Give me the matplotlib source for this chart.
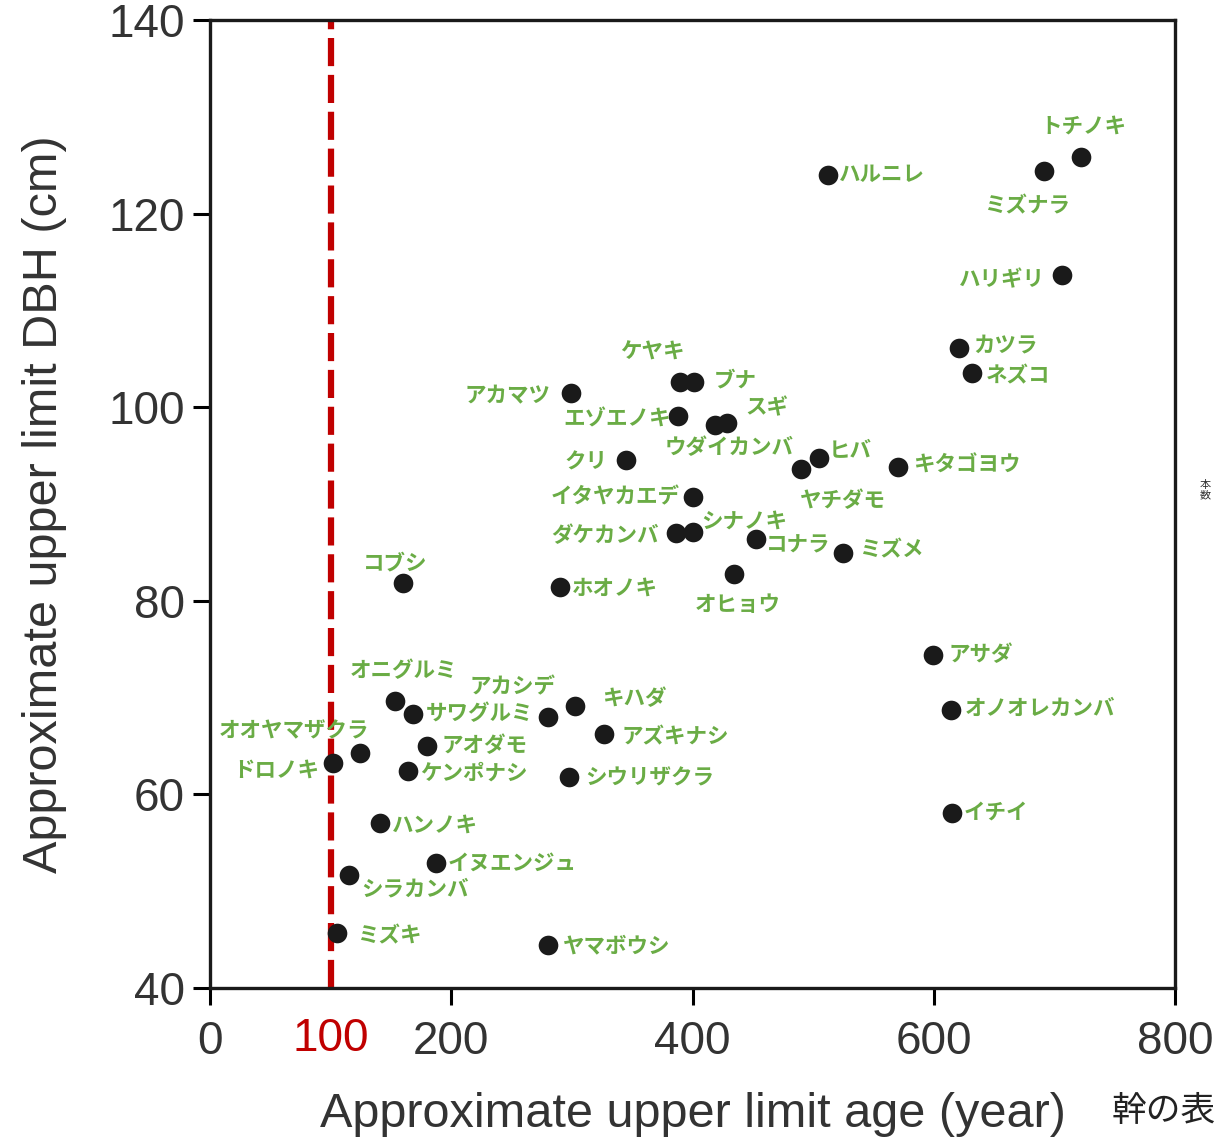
import matplotlib
matplotlib.use("Agg")
import matplotlib.pyplot as plt

plt.rcParams['font.family'] = ['Liberation Sans', 'Noto Sans CJK JP', 'DejaVu Sans']

# ---- data ----
species = ["トチノキ", "ミズナラ", "ハルニレ", "ハリギリ", "カツラ", "ネズコ",
           "アカマツ", "ケヤキ", "ブナ", "エゾエノキ", "ウダイカンバ", "スギ",
           "クリ", "ヤチダモ", "ヒバ", "キタゴヨウ", "イタヤカエデ", "ダケカンバ",
           "シナノキ", "コナラ", "ミズメ", "オヒョウ", "ホオノキ", "コブシ",
           "アサダ", "オノオレカンバ", "イチイ", "オニグルミ", "サワグルミ",
           "アカシデ", "キハダ", "アズキナシ", "シウリザクラ", "オオヤマザクラ",
           "ドロノキ", "アオダモ", "ケンポナシ", "ハンノキ", "イヌエンジュ",
           "シラカンバ", "ミズキ", "ヤマボウシ"]
age = [722, 691, 512, 706, 621, 632,
       299, 390, 401, 388, 419, 429,
       345, 490, 505, 570, 400, 386,
       400, 453, 525, 434, 290, 160,
       599, 614, 615, 153, 168,
       280, 303, 327, 298, 124,
       102, 180, 164, 141, 187,
       115, 105, 280]
dbh = [125.8, 124.4, 124.0, 113.7, 106.1, 103.5,
       101.5, 102.6, 102.6, 99.1, 98.2, 98.4,
       94.5, 93.6, 94.8, 93.8, 90.7, 87.0,
       87.1, 86.4, 84.9, 82.8, 81.4, 81.8,
       74.4, 68.7, 58.1, 69.6, 68.3,
       68.0, 69.1, 66.2, 61.8, 64.3,
       63.2, 65.0, 62.4, 57.0, 52.9,
       51.7, 45.7, 44.4]
x_ticks = [0, 200, 400, 600, 800]
y_ticks = [40, 60, 80, 100, 120, 140]
threshold = 100
x_label = "Approximate upper limit age (year)"
y_label = "Approximate upper limit DBH (cm)"

# label offsets in pixels (dx right, dy up) from each dot
offsets = [(3, 31), (-16, -35), (54, 0), (-60, -5), (46, 3), (46, -3),
           (-63, -3), (-28, 30), (42, 2), (-61, -3), (14, -23), (39, 15),
           (-40, -2), (42, -31), (31, 7), (69, 2), (-77, 0), (-71, -3),
           (52, 11), (42, -6), (48, 3), (4, -31), (55, -1), (-8, 20),
           (48, 0), (89, 2), (44, 1), (9, 31), (67, 0),
           (-35, 30), (59, 8), (71, -2), (80, -1), (-66, 22),
           (-57, -7), (57, 0), (66, -2), (55, -2), (77, 0),
           (66, -14), (53, -3), (69, 0)]

green = "#6aac45"
tick_color = "#333333"

fig = plt.figure(figsize=(12.2, 11.38), dpi=100)
ax = fig.add_axes([210/1220, 150/1138, 965/1220, 968/1138])

ax.axvline(threshold, color="#c00000", lw=4.5, ls=(0, (4.5, 1.4)), zorder=2)
ax.scatter(age, dbh, s=200, color="#1a1a1a", zorder=3, linewidths=0)

for name, x, y, (dx, dy) in zip(species, age, dbh, offsets):
    ax.annotate(name, (x, y), xytext=(dx, dy), textcoords="offset pixels",
                ha="center", va="center", color=green, fontsize=15.5,
                fontweight="bold", family=["Noto Sans CJK JP"], zorder=4)

ax.set_xlim(0, 800)
ax.set_ylim(40, 140)
ax.set_xticks(x_ticks)
ax.set_yticks(y_ticks)
ax.tick_params(axis="both", direction="out", length=12, width=2.2,
               labelsize=33, colors="black", labelcolor=tick_color)
ax.tick_params(axis="x", pad=11)
ax.tick_params(axis="y", pad=6)
for sp in ax.spines.values():
    sp.set_linewidth(2.4)
    sp.set_color("#1a1a1a")

# red label for the threshold, placed like a tick label
ax.annotate(str(threshold), (threshold, 0), xycoords=ax.get_xaxis_transform(),
            xytext=(0, -51), textcoords="offset pixels",
            ha="center", va="center", fontsize=33, color="#c00000")

ax.set_xlabel(x_label, fontsize=35, color=tick_color, labelpad=20)
ax.set_ylabel(y_label, fontsize=35, color=tick_color, labelpad=30)

# fragments of surrounding text
fig.text(1112/1220, 1 - 1112/1138, "幹の表", fontsize=25, color="#222222",
         ha="left", va="center", family=["Noto Sans CJK JP"])
fig.text(1205/1220, 1 - 490/1138, "本\n数", fontsize=8, color="#333333",
         ha="center", va="center", linespacing=1.0, family=["Noto Sans CJK JP"])

fig.savefig("out.png", dpi=100, facecolor="white")
